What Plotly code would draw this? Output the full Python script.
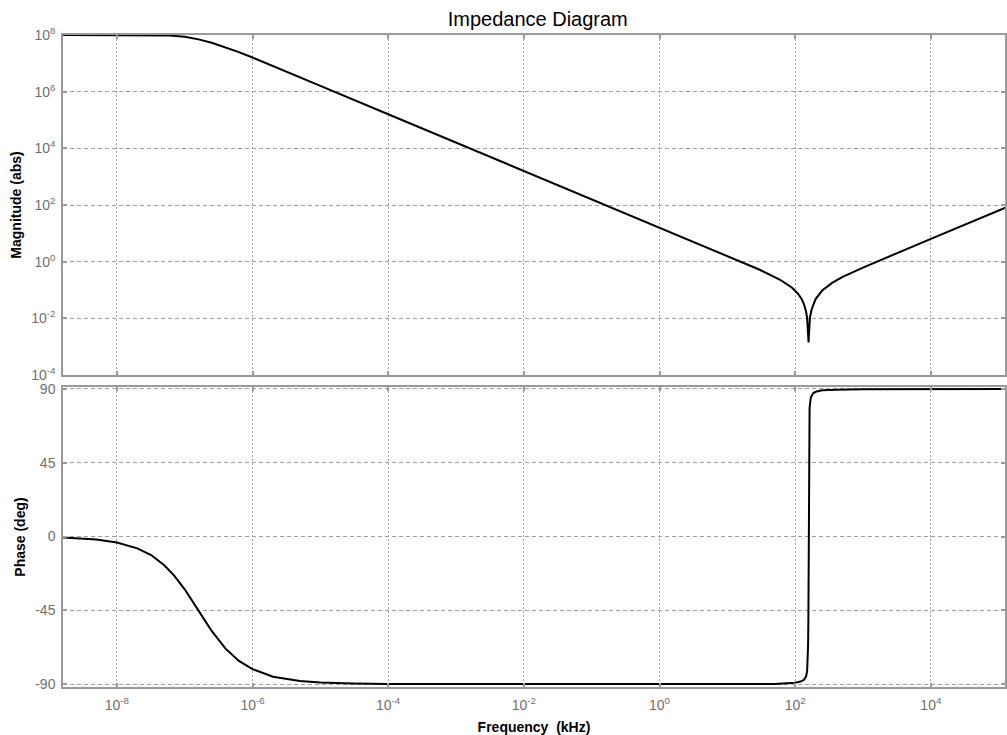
import plotly.graph_objects as go
from plotly.subplots import make_subplots

# Frequency (kHz) and impedance magnitude (abs)
mag_freq = [1.6e-9, 1e-8, 3e-8, 6e-8, 1e-7, 1.6e-7, 2.5e-7, 4e-7, 6e-7, 1e-6, 2e-6, 5e-6,
            1e-5, 1e-4, 1e-3, 1e-2, 1e-1, 1, 10, 30, 60, 90, 110, 125, 135, 145, 150, 154,
            156, 157.5, 159, 161, 165, 175, 200, 250, 350, 500, 1000, 1e4, 1e5, 1.3e5]
mag_vals = [1.0e8, 1.0e8, 0.99e8, 0.96e8, 0.86e8, 0.70e8, 0.53e8, 0.37e8, 0.26e8, 1.6e7, 7.9e6, 3.2e6,
            1.6e6, 1.6e5, 1.6e4, 1.6e3, 160, 16, 1.6, 0.52, 0.23, 0.12, 0.074, 0.047, 0.031, 0.017, 0.0099, 0.0047,
            0.0024, 0.0014, 0.0024, 0.0049, 0.0106, 0.021, 0.048, 0.096, 0.178, 0.29, 0.62, 6.4, 64, 83]

# Frequency (kHz) and phase (deg)
ph_freq = [1.6e-9, 5e-9, 1e-8, 2e-8, 3.2e-8, 5e-8, 7e-8, 1e-7, 1.6e-7, 2.5e-7, 4e-7, 6.3e-7, 1e-6,
           2e-6, 5e-6, 1e-5, 3e-5, 1e-4, 1, 50, 100, 120, 135, 145, 150, 153, 155, 156.5, 157.5,
           158.5, 160, 163, 170, 185, 200, 250, 400, 1000, 1.3e5]
ph_vals = [-0.6, -1.8, -3.6, -7.2, -11.3, -17.5, -23.8, -32.2, -45.2, -57.6, -68.4, -75.9, -80.9,
           -85.5, -88.2, -89.1, -89.7, -89.9, -90, -89.9, -89.2, -88.5, -87.4, -85.2, -82, -76, -66, -50, 0,
           50, 66, 78.5, 84.8, 87.5, 88.3, 89.2, 89.6, 89.9, 90]

x_tickvals = [1e-8, 1e-6, 1e-4, 1e-2, 1, 1e2, 1e4]
x_ticktext = ["10<sup>-8</sup>", "10<sup>-6</sup>", "10<sup>-4</sup>", "10<sup>-2</sup>",
              "10<sup>0</sup>", "10<sup>2</sup>", "10<sup>4</sup>"]
mag_tickvals = [1e-4, 1e-2, 1, 1e2, 1e4, 1e6, 1e8]
mag_ticktext = ["10<sup>-4</sup>", "10<sup>-2</sup>", "10<sup>0</sup>", "10<sup>2</sup>",
                "10<sup>4</sup>", "10<sup>6</sup>", "10<sup>8</sup>"]
ph_tickvals = [-90, -45, 0, 45, 90]
ph_ticktext = ["-90", "-45", "0", "45", "90"]

fig = make_subplots(rows=2, cols=1, shared_xaxes=False)

fig.add_trace(go.Scatter(x=mag_freq, y=mag_vals, mode="lines",
                         line=dict(color="black", width=2), showlegend=False), row=1, col=1)
fig.add_trace(go.Scatter(x=ph_freq, y=ph_vals, mode="lines",
                         line=dict(color="black", width=2), showlegend=False), row=2, col=1)

gray_axis = "#9a9a9a"
grid_col = "#a0a0a0"
tick_font = dict(family="Liberation Sans, Arial", size=14, color="#707070")
title_font = dict(family="Liberation Sans, Arial", size=14, color="black")

common_x = dict(type="log", range=[-8.794, 5.093], tickvals=x_tickvals, ticktext=x_ticktext,
                showline=True, linecolor=gray_axis, linewidth=1.5, mirror="ticks",
                ticks="inside", ticklen=4, tickcolor=gray_axis, tickwidth=1.5,
                showgrid=True, gridcolor=grid_col, gridwidth=1, griddash="2px,2px",
                zeroline=False, tickfont=tick_font)

fig.update_xaxes(**common_x, showticklabels=False, row=1, col=1)
fig.update_xaxes(**common_x, showticklabels=True, ticklabelstandoff=4,
                 title=dict(text="<b>Frequency&nbsp; (kHz)</b>", font=title_font, standoff=11),
                 row=2, col=1)

fig.update_yaxes(type="log", range=[-4, 8], tickvals=mag_tickvals, ticktext=mag_ticktext,
                 showline=True, linecolor=gray_axis, linewidth=1.5, mirror="ticks",
                 ticks="inside", ticklen=4, tickcolor=gray_axis, tickwidth=1.5,
                 showgrid=True, gridcolor=grid_col, gridwidth=1, griddash="4px,3px",
                 zeroline=False, tickfont=tick_font, ticklabelstandoff=3,
                 title=dict(text="<b>Magnitude (abs)</b>", font=title_font, standoff=6),
                 row=1, col=1)
fig.update_yaxes(range=[-91.8, 91.2], tickvals=ph_tickvals, ticktext=ph_ticktext,
                 showline=True, linecolor=gray_axis, linewidth=1.5, mirror="ticks",
                 ticks="inside", ticklen=4, tickcolor=gray_axis, tickwidth=1.5,
                 showgrid=True, gridcolor=grid_col, gridwidth=1, griddash="4px,3px",
                 zeroline=False, tickfont=tick_font, ticklabelstandoff=3,
                 title=dict(text="<b>Phase (deg)</b>", font=title_font, standoff=6),
                 row=2, col=1)

fig.update_layout(
    width=1007, height=735,
    margin=dict(l=63, r=0, t=35, b=48),
    paper_bgcolor="white", plot_bgcolor="white",
    title=dict(text="Impedance Diagram", x=0.534, xanchor="center", y=0.9735, yanchor="middle",
               font=dict(family="Liberation Sans, Arial", size=20, color="black")),
    xaxis=dict(domain=[0, 1]), xaxis2=dict(domain=[0, 1]),
    yaxis=dict(domain=[0.4785, 1.0]), yaxis2=dict(domain=[0.0, 0.4601]),
)

fig.write_html("out.html", config={"displayModeBar": False},
               post_script="document.body.style.margin='0';document.body.style.padding='0';")
